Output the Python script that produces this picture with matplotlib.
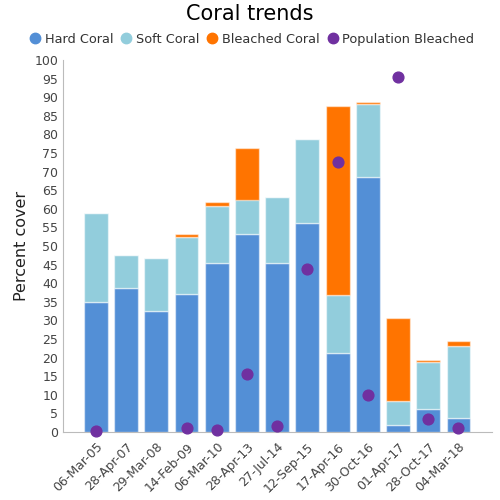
import numpy as np
import matplotlib
matplotlib.use("Agg")
import matplotlib.pyplot as plt
from matplotlib.lines import Line2D

dates = ["06-Mar-05", "28-Apr-07", "29-Mar-08", "14-Feb-09", "06-Mar-10", "28-Apr-13",
         "27-Jul-14", "12-Sep-15", "17-Apr-16", "30-Oct-16", "01-Apr-17", "28-Oct-17", "04-Mar-18"]
hard = [35.0, 38.7, 32.5, 37.0, 45.5, 53.1, 45.5, 56.3, 21.2, 68.6, 1.9, 6.2, 3.8]
soft = [24.0, 8.9, 14.3, 15.5, 15.2, 9.4, 17.7, 22.5, 15.7, 19.7, 6.3, 12.6, 19.4]
bleached = [0.0, 0.0, 0.0, 0.7, 1.2, 13.8, 0.0, 0.0, 50.6, 0.4, 22.4, 0.6, 1.3]
pop_bleached = [0.3, np.nan, np.nan, 1.1, 0.5, 15.5, 1.5, 43.8, 72.5, 10.0, 95.5, 3.5, 1.0]

c_hard = "#538FD6"
c_soft = "#92CDDC"
c_bleach = "#FF7400"
c_pop = "#7030A0"


def main():
    fig = plt.figure(figsize=(5, 5), dpi=100)
    ax = fig.add_axes([0.126, 0.136, 0.858, 0.744])
    x = np.arange(len(dates))
    hard_a = np.array(hard)
    soft_a = np.array(soft)
    w = 0.79
    ec = (1, 1, 1, 0.5)
    ax.bar(x, hard_a, w, color=c_hard, edgecolor=ec, linewidth=1)
    ax.bar(x, soft_a, w, bottom=hard_a, color=c_soft, edgecolor=ec, linewidth=1)
    ax.bar(x, bleached, w, bottom=hard_a + soft_a, color=c_bleach, edgecolor=ec, linewidth=1)
    ax.scatter(x, pop_bleached, s=60, color=c_pop, zorder=3, clip_on=False)

    ax.set_xlim(-1.09, 13.11)
    ax.set_ylim(0, 100)
    ax.set_yticks(np.arange(0, 101, 5))
    ax.set_xticks(x)
    ax.set_xticklabels(dates, rotation=45, ha="right", rotation_mode="anchor")
    ax.tick_params(axis="both", length=0, labelsize=9, colors="#444444")
    ax.tick_params(axis="x", pad=6)
    for s in ["top", "right"]:
        ax.spines[s].set_visible(False)
    ax.spines["left"].set_color("#bbbbbb")
    ax.spines["bottom"].set_color("#bbbbbb")
    ax.set_ylabel("Percent cover", fontsize=11.5, color="#222222", labelpad=4)

    fig.text(0.5, 0.972, "Coral trends", ha="center", va="center", fontsize=15)
    handles = [Line2D([], [], marker="o", linestyle="", color=c, markersize=7.5)
               for c in [c_hard, c_soft, c_bleach, c_pop]]
    labels = ["Hard Coral", "Soft Coral", "Bleached Coral", "Population Bleached"]
    fig.legend(handles, labels, loc="center", bbox_to_anchor=(0.5, 0.921), ncol=4,
               frameon=False, fontsize=9.3, handletextpad=0.0, columnspacing=0.25,
               handlelength=1.5, labelcolor="#333333")
    fig.savefig("out.png")


if __name__ == '__main__':
    main()
